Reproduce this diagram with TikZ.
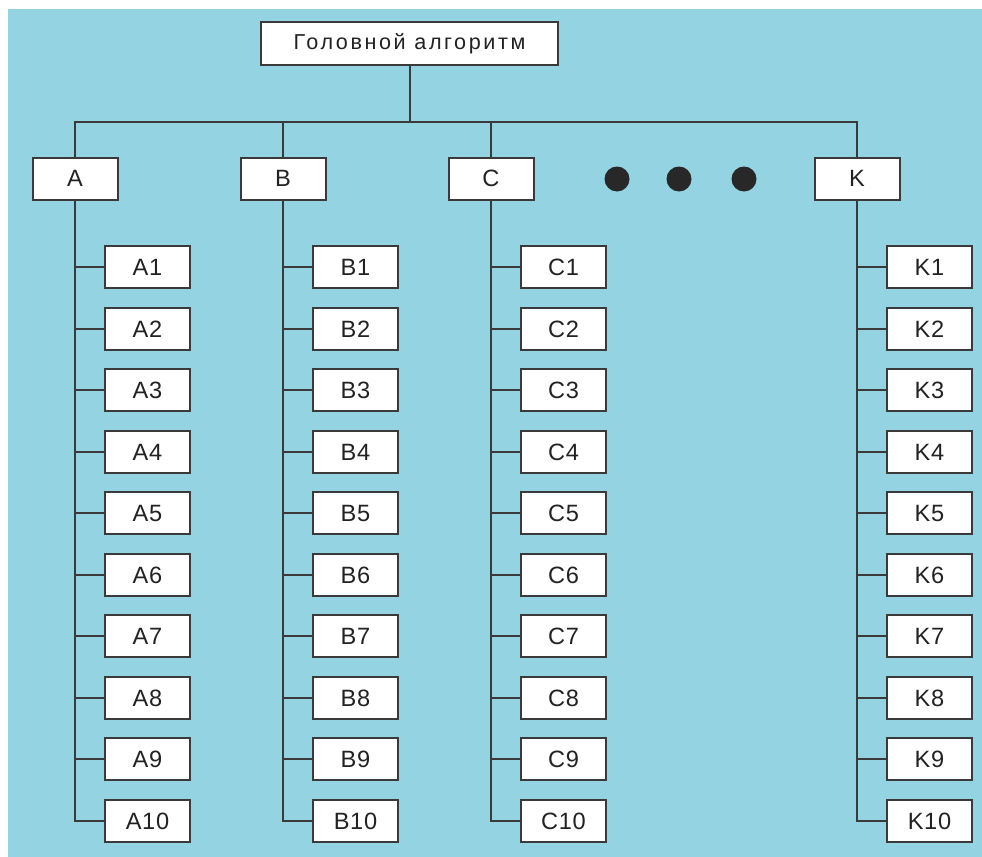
\documentclass[tikz,border=0pt]{standalone}
\usepackage{fontspec}
\setmainfont{Liberation Sans}
\usepackage{tikz}
\usetikzlibrary{positioning}
\definecolor{bgblue}{RGB}{148,211,225}
\definecolor{linegray}{HTML}{3A3A3A}
\definecolor{dotgray}{HTML}{282828}
\definecolor{txtgray}{HTML}{222222}

\begin{document}
\begin{tikzpicture}[
  x=0.5pt, y=-0.5pt,
  box/.style  = {rectangle, draw=linegray, line width=1pt, fill=white,
                 minimum width=42.5pt, minimum height=21pt, inner sep=0pt,
                 text=txtgray,
                 font=\fontsize{11.8}{13}\selectfont\addfontfeatures{LetterSpace=3}},
  head/.style = {box, minimum width=148.5pt, minimum height=21.5pt,
                 font=\fontsize{10.8}{12}\selectfont\addfontfeatures{LetterSpace=12}},
  dot/.style  = {circle, fill=dotgray, minimum size=12.5pt, inner sep=0pt},
  ln/.style   = {draw=linegray, line width=1pt}
]
  \useasboundingbox (0,0) rectangle (982,857);
  \fill[bgblue] (8,9) rectangle (982,857);

  \node[head] (root) at (409.5,43.6) {Головной алгоритм};

  % columns and their ten sub-blocks
  \foreach \n/\x in {A/75, B/283, C/491, K/857} {
    \node[box] (\n) at (\x,178.5) {\n};
    \foreach \i in {1,...,10}
      \node[box] (\n\i) at ({\x+72.5}, {267.4+61.5*(\i-1)}) {\n\i};
  }

  \foreach \x [count=\k] in {617,679,744}
    \node[dot] (dot\k) at (\x,179) {};

  % tree lines
  \path (root.south) ++(0,56) coordinate (bus);
  \draw[ln] (root.south) -- (bus);
  \draw[ln] (A.north) |- (bus) -| (K.north);
  \draw[ln] (B.north) -- (B.north |- bus);
  \draw[ln] (C.north) -- (C.north |- bus);

  \foreach \n in {A, B, C, K} {
    \draw[ln] (\n.south) |- (\n10.west);
    \foreach \i in {1,...,9}
      \draw[ln] (\n.south |- \n\i.west) -- (\n\i.west);
  }
\end{tikzpicture}
\end{document}
